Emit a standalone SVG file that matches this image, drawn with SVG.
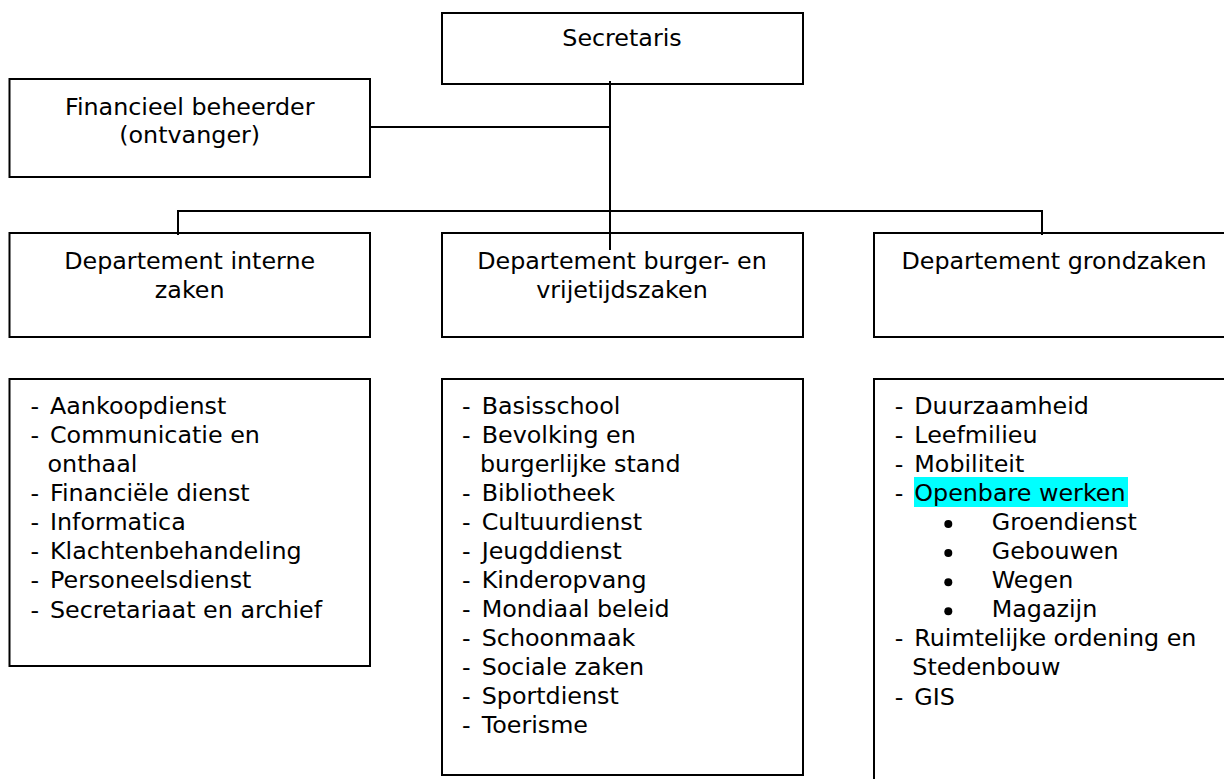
<svg xmlns="http://www.w3.org/2000/svg" width="1224" height="779" viewBox="0 0 1224 779">
<style>
  .box{fill:#fff;stroke:#000;stroke-width:2}
  .ln{fill:none;stroke:#000;stroke-width:2}
  text{font-family:"DejaVu Sans","Verdana",sans-serif;font-size:23.8px;fill:#000}
  .c{text-anchor:middle}
</style>
<rect width="1224" height="779" fill="#fff"/>
<g id="n-secretaris">
  <rect class="box" x="442" y="13" width="361" height="71"/>
  <text class="c" x="622" y="46">Secretaris</text>
</g>
<g id="n-financieel">
  <rect class="box" x="9.5" y="79" width="360.5" height="98"/>
  <text class="c" x="189.7" y="115">Financieel beheerder</text>
  <text class="c" x="189.7" y="143">(ontvanger)</text>
</g>
<g id="n-interne">
  <rect class="box" x="9.5" y="233" width="360.5" height="104"/>
  <text class="c" x="189.7" y="269">Departement interne</text>
  <text class="c" x="189.7" y="298">zaken</text>
</g>
<g id="n-burger">
  <rect class="box" x="442" y="233" width="361" height="104"/>
  <text class="c" x="622" y="269">Departement burger- en</text>
  <text class="c" x="622" y="298">vrijetijdszaken</text>
</g>
<g id="n-grond">
  <rect class="box" x="874" y="233" width="362" height="104"/>
  <text class="c" x="1054" y="269">Departement grondzaken</text>
</g>
<g id="n-list-interne">
  <rect class="box" x="9.5" y="379" width="360.5" height="287"/>
  <text x="30.5" y="414">- <tspan x="50">Aankoopdienst</tspan></text>
  <text x="30.5" y="443">- <tspan x="50">Communicatie en</tspan></text>
  <text x="47.5" y="472">onthaal</text>
  <text x="30.5" y="501">- <tspan x="50">Financiële dienst</tspan></text>
  <text x="30.5" y="530">- <tspan x="50">Informatica</tspan></text>
  <text x="30.5" y="559">- <tspan x="50">Klachtenbehandeling</tspan></text>
  <text x="30.5" y="588">- <tspan x="50">Personeelsdienst</tspan></text>
  <text x="30.5" y="618">- <tspan x="50">Secretariaat en archief</tspan></text>
</g>
<g id="n-list-burger">
  <rect class="box" x="442" y="379" width="361" height="396"/>
  <text x="462" y="414">- <tspan x="481.7">Basisschool</tspan></text>
  <text x="462" y="443">- <tspan x="481.7">Bevolking en</tspan></text>
  <text x="480" y="472">burgerlijke stand</text>
  <text x="462" y="501">- <tspan x="481.7">Bibliotheek</tspan></text>
  <text x="462" y="530">- <tspan x="481.7">Cultuurdienst</tspan></text>
  <text x="462" y="559">- <tspan x="481.7">Jeugddienst</tspan></text>
  <text x="462" y="588">- <tspan x="481.7">Kinderopvang</tspan></text>
  <text x="462" y="617">- <tspan x="481.7">Mondiaal beleid</tspan></text>
  <text x="462" y="646">- <tspan x="481.7">Schoonmaak</tspan></text>
  <text x="462" y="675">- <tspan x="481.7">Sociale zaken</tspan></text>
  <text x="462" y="704">- <tspan x="481.7">Sportdienst</tspan></text>
  <text x="462" y="733">- <tspan x="481.7">Toerisme</tspan></text>
</g>
<g id="n-list-grond">
  <rect class="box" x="874" y="379" width="362" height="420"/>
  <rect x="914" y="477" width="214" height="30" fill="#00ffff"/>
  <text x="894.7" y="413.5">- <tspan x="914.3">Duurzaamheid</tspan></text>
  <text x="894.7" y="442.6">- <tspan x="914.3">Leefmilieu</tspan></text>
  <text x="894.7" y="471.7">- <tspan x="914.3">Mobiliteit</tspan></text>
  <text x="894.7" y="500.8">- <tspan x="914.3">Openbare werken</tspan></text>
  <circle cx="948.3" cy="524" r="4"/>
  <text x="991.7" y="529.9">Groendienst</text>
  <circle cx="948.3" cy="553.1" r="4"/>
  <text x="991.7" y="559">Gebouwen</text>
  <circle cx="948.3" cy="582.2" r="4"/>
  <text x="991.7" y="588.1">Wegen</text>
  <circle cx="948.3" cy="611.3" r="4"/>
  <text x="991.7" y="617.2">Magazijn</text>
  <text x="894.7" y="646.3">- <tspan x="914.3">Ruimtelijke ordening en</tspan></text>
  <text x="912.3" y="675.4">Stedenbouw</text>
  <text x="894.7" y="704.5">- <tspan x="914.3">GIS</tspan></text>
</g>
<g id="connectors">
  <line class="ln" x1="610" y1="81" x2="610" y2="250"/>
  <line class="ln" x1="370" y1="127" x2="610" y2="127"/>
  <polyline class="ln" points="178,235 178,211 1042,211 1042,235"/>
</g>
</svg>
